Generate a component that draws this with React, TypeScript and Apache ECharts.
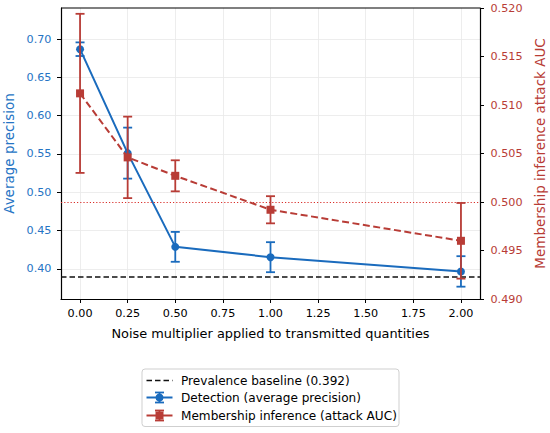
import React, { useEffect, useRef } from "react";
import * as echarts from "echarts";

const noise = [0, 0.25, 0.5, 1.0, 2.0];
const detMean = [0.6867, 0.551, 0.4286, 0.4151, 0.3965];
const detErr = [0.0089, 0.0333, 0.0195, 0.0196, 0.0199];
const miaMean = [0.5112, 0.5046, 0.5027, 0.4992, 0.4960];
const miaErr = [0.0082, 0.0042, 0.0016, 0.0014, 0.0039];
const baseline = 0.392;
const chance = 0.5;
const xTicks = [0, 0.25, 0.5, 0.75, 1.0, 1.25, 1.5, 1.75, 2.0];
const leftTicks = [0.4, 0.45, 0.5, 0.55, 0.6, 0.65, 0.7];
const legendLabels = [
  "Prevalence baseline (0.392)",
  "Detection (average precision)",
  "Membership inference (attack AUC)",
];

const BLUE = "#1a6bbd";
const BLUE_TEXT = "#2574c4";
const RED = "#b83c36";
const FONT = "DejaVu Sans";

function errorBarSeries(mean: number[], err: number[], color: string, yAxisIndex: number, z: number) {
  return {
    type: "custom",
    yAxisIndex,
    z,
    silent: true,
    encode: { x: 0, y: [1, 2] },
    data: noise.map((x, i) => [x, mean[i] - err[i], mean[i] + err[i]]),
    renderItem: (params: any, api: any) => {
      const x = api.value(0);
      const lo = api.coord([x, api.value(1)]);
      const hi = api.coord([x, api.value(2)]);
      const hw = 4.5;
      const style = { stroke: color, lineWidth: 1.8 };
      return {
        type: "group",
        children: [
          { type: "line", shape: { x1: lo[0], y1: lo[1], x2: hi[0], y2: hi[1] }, style },
          { type: "line", shape: { x1: lo[0] - hw, y1: lo[1], x2: lo[0] + hw, y2: lo[1] }, style },
          { type: "line", shape: { x1: hi[0] - hw, y1: hi[1], x2: hi[0] + hw, y2: hi[1] }, style },
        ],
      };
    },
  };
}

function legendGraphic() {
  const x0 = 146.5;
  const x1 = 172.5;
  const xm = (x0 + x1) / 2;
  const rows = [380.5, 397.5, 415.5];
  const Z = 110;
  const ln = (xa: number, ya: number, xb: number, yb: number, stroke: string, lineWidth: number, lineDash?: number[]) => ({
    type: "line",
    z: Z,
    shape: { x1: xa, y1: ya, x2: xb, y2: yb },
    style: lineDash ? { stroke, lineWidth, lineDash } : { stroke, lineWidth },
  });
  const txt = (i: number) => ({
    type: "text",
    z: Z,
    x: 181,
    y: rows[i],
    style: {
      text: legendLabels[i],
      fontFamily: FONT,
      fontSize: 12.1,
      fill: "#000",
      verticalAlign: "middle",
      align: "left",
    },
  });
  const errIcon = (y: number, color: string) => [
    ln(x0, y, x1, y, color, 2),
    ln(xm, y - 5, xm, y + 5, color, 1.8),
    ln(xm - 4.5, y - 5, xm + 4.5, y - 5, color, 1.8),
    ln(xm - 4.5, y + 5, xm + 4.5, y + 5, color, 1.8),
  ];
  return [
    {
      type: "rect",
      z: 100,
      shape: { x: 142, y: 369, width: 257, height: 57.5, r: 3 },
      style: { fill: "#fff", stroke: "#cfcfcf", lineWidth: 1 },
    },
    ln(x0, rows[0], x1, rows[0], "#111", 1.5, [5.5, 3]),
    ...errIcon(rows[1], BLUE),
    { type: "circle", z: Z, shape: { cx: xm, cy: rows[1], r: 4 }, style: { fill: BLUE } },
    ...errIcon(rows[2], RED),
    { type: "rect", z: Z, shape: { x: xm - 4, y: rows[2] - 4, width: 8, height: 8 }, style: { fill: RED } },
    txt(0),
    txt(1),
    txt(2),
  ];
}

export default function App() {
  const ref = useRef<HTMLDivElement>(null);
  useEffect(() => {
    if (!ref.current) return;
    const chart = echarts.init(ref.current, null, { renderer: "svg" });
    const tickStyle = { show: true, length: 4, lineStyle: { color: "#000", width: 1 } };
    chart.setOption({
      animation: false,
      backgroundColor: "#fff",
      textStyle: { fontFamily: FONT },
      grid: { left: 61, top: 8, right: 70, bottom: 134, containLabel: false, outerBoundsMode: "none" },
      xAxis: {
        type: "value",
        min: -0.1,
        max: 2.1,
        name: "Noise multiplier applied to transmitted quantities",
        nameLocation: "middle",
        nameGap: 28,
        nameTextStyle: { fontFamily: FONT, fontSize: 12.9, color: "#000" },
        axisLine: { show: true, onZero: false, lineStyle: { color: "#000", width: 1.2 } },
        axisTick: { ...tickStyle, customValues: xTicks },
        axisLabel: {
          customValues: xTicks,
          formatter: (v: number) => v.toFixed(2),
          fontFamily: FONT,
          fontSize: 11.2,
          color: "#000",
          margin: 9,
        },
        splitLine: { show: true, lineStyle: { color: "#e8e8e8", width: 0.8 } },
      },
      yAxis: [
        {
          type: "value",
          min: 0.3605,
          max: 0.7405,
          name: "Average precision",
          nameLocation: "middle",
          nameGap: 43.5,
          nameTextStyle: { fontFamily: FONT, fontSize: 13.5, color: BLUE_TEXT },
          axisLine: { show: true, onZero: false, lineStyle: { color: "#000", width: 1.2 } },
          axisTick: { ...tickStyle, customValues: leftTicks },
          axisLabel: {
            customValues: leftTicks,
            formatter: (v: number) => v.toFixed(2),
            fontFamily: FONT,
            fontSize: 11.2,
            color: BLUE_TEXT,
            margin: 9.5,
          },
          splitLine: { show: true, lineStyle: { color: "#e8e8e8", width: 0.8 } },
        },
        {
          type: "value",
          min: 0.49,
          max: 0.52,
          interval: 0.005,
          position: "right",
          name: "Membership inference attack AUC",
          nameLocation: "middle",
          nameGap: 48,
          nameRotate: 90,
          nameTextStyle: { fontFamily: FONT, fontSize: 13.5, color: RED },
          axisLine: { show: true, onZero: false, lineStyle: { color: "#000", width: 1.2 } },
          axisTick: tickStyle,
          axisLabel: {
            formatter: (v: number) => v.toFixed(3),
            fontFamily: FONT,
            fontSize: 11.2,
            color: RED,
            margin: 10.5,
          },
          splitLine: { show: false },
        },
      ],
      graphic: [
        {
          type: "line",
          z: 50,
          shape: { x1: 61, y1: 8, x2: 480, y2: 8 },
          style: { stroke: "#000", lineWidth: 1.2 },
        },
        ...legendGraphic(),
      ],
      series: [
        {
          type: "line",
          name: legendLabels[1],
          yAxisIndex: 0,
          z: 3,
          data: noise.map((x, i) => [x, detMean[i]]),
          symbol: "circle",
          symbolSize: 8,
          itemStyle: { color: BLUE },
          lineStyle: { color: BLUE, width: 2 },
          markLine: {
            silent: true,
            symbol: "none",
            label: { show: false },
            lineStyle: { color: "#111", type: [5.5, 3], width: 1.5 },
            data: [{ yAxis: baseline }],
          },
        },
        errorBarSeries(detMean, detErr, BLUE, 0, 3),
        {
          type: "line",
          name: legendLabels[2],
          yAxisIndex: 1,
          z: 5,
          data: noise.map((x, i) => [x, miaMean[i]]),
          symbol: "rect",
          symbolSize: 8,
          itemStyle: { color: RED },
          lineStyle: { color: RED, width: 2, type: [7, 3.5] },
          markLine: {
            silent: true,
            symbol: "none",
            label: { show: false },
            lineStyle: { color: "#d9302b", type: [1.2, 2], width: 1.2 },
            data: [{ yAxis: chance }],
          },
        },
        errorBarSeries(miaMean, miaErr, RED, 1, 5),
      ],
    });
    return () => chart.dispose();
  }, []);
  return (
    <div
      ref={ref}
      style={{ position: "fixed", left: 0, top: 0, width: 550, height: 433 }}
    />
  );
}
